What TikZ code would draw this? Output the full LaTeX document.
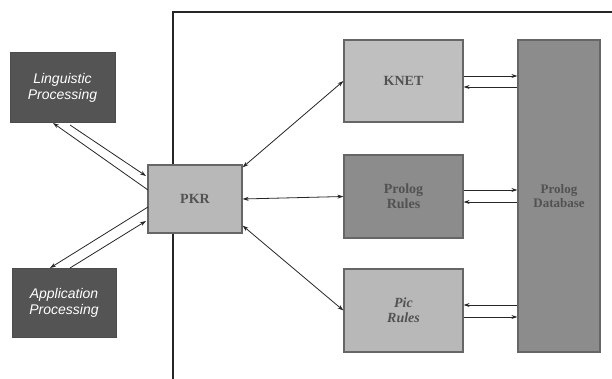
\documentclass[tikz,border=0pt]{standalone}
\usepackage{fontspec}
\setmainfont{Liberation Serif}
\newfontfamily\boxsans{Liberation Sans}
\usetikzlibrary{arrows.meta}
\begin{document}
\begin{tikzpicture}[x=1pt,y=-1pt,
  darkbox/.style={draw=black!70,line width=1pt,fill=black!67,text=white,font=\boxsans\itshape\fontsize{14}{16}\selectfont,align=center,inner sep=0pt},
  dotbox/.style={draw=black!60,line width=1.2pt,align=center,inner sep=0pt,text=black!68,font=\bfseries\fontsize{14}{15}\selectfont},
  conn/.style={line width=0.8pt,draw=black!85,-{Stealth[length=6pt,width=4pt]}},
  bconn/.style={line width=0.8pt,draw=black!85,{Stealth[length=6pt,width=4pt]}-{Stealth[length=6pt,width=4pt]}},
  frameline/.style={line width=1.4pt,draw=black!85}
]
\useasboundingbox (0,0) rectangle (612,379);
% frame
\coordinate (fa) at (173,379);
\coordinate (fb) at (173,12);
\coordinate (fc) at (612,12);
\draw[frameline] (fa) -- (fb) -- (fc);
% nodes
\node[darkbox,minimum width=105pt,minimum height=70pt] (ling) at (62.5,88) {Linguistic\\Processing};
\node[darkbox,minimum width=104pt,minimum height=69pt] (app) at (64,302.5) {Application\\Processing};
\node[dotbox,fill=black!28,minimum width=94pt,minimum height=68pt] (pkr) at (195,199) {PKR};
\node[dotbox,fill=black!25,minimum width=119pt,minimum height=82pt] (knet) at (403.5,81) {KNET};
\node[dotbox,fill=black!45,minimum width=119pt,minimum height=83pt] (prr) at (403.5,196.5) {Prolog\\Rules};
\node[dotbox,fill=black!28,minimum width=119pt,minimum height=83pt,font=\bfseries\itshape\fontsize{14}{15}\selectfont] (pic) at (403.5,310.5) {Pic\\Rules};
\node[dotbox,fill=black!45,minimum width=82pt,minimum height=312pt,font=\bfseries\fontsize{13}{14}\selectfont] (db) at (559,196) {Prolog\\Database};
% PKR - left boxes (parallel pairs)
\coordinate (l1) at (53,123);
\coordinate (l2) at (70,125);
\coordinate (p1) at (148,190);
\coordinate (p2) at (146,176);
\draw[conn] (p1) -- (l1);
\draw[conn] (l2) -- (p2);
\coordinate (a1) at (50,268);
\coordinate (a2) at (70,268);
\coordinate (q1) at (148,207);
\coordinate (q2) at (146,221);
\draw[conn] (q1) -- (a1);
\draw[conn] (a2) -- (q2);
% PKR - right boxes
\draw[bconn] ([yshift=-3pt]pkr.north east) -- (knet.west);
\draw[bconn] (pkr.east) -- (prr.west);
\draw[bconn] ([yshift=8pt]pkr.south east) -- (pic.west);
% boxes - database
\draw[conn] ([yshift=5pt]knet.east) -- ([yshift=5pt]knet.east -| db.west);
\draw[conn] ([yshift=-6pt]knet.east -| db.west) -- ([yshift=-6pt]knet.east);
\draw[conn] ([yshift=6.5pt]prr.east) -- ([yshift=6.5pt]prr.east -| db.west);
\draw[conn] ([yshift=-5.5pt]prr.east -| db.west) -- ([yshift=-5.5pt]prr.east);
\draw[conn] ([yshift=5.5pt]pic.east -| db.west) -- ([yshift=5.5pt]pic.east);
\draw[conn] ([yshift=-6.5pt]pic.east) -- ([yshift=-6.5pt]pic.east -| db.west);
\end{tikzpicture}
\end{document}
